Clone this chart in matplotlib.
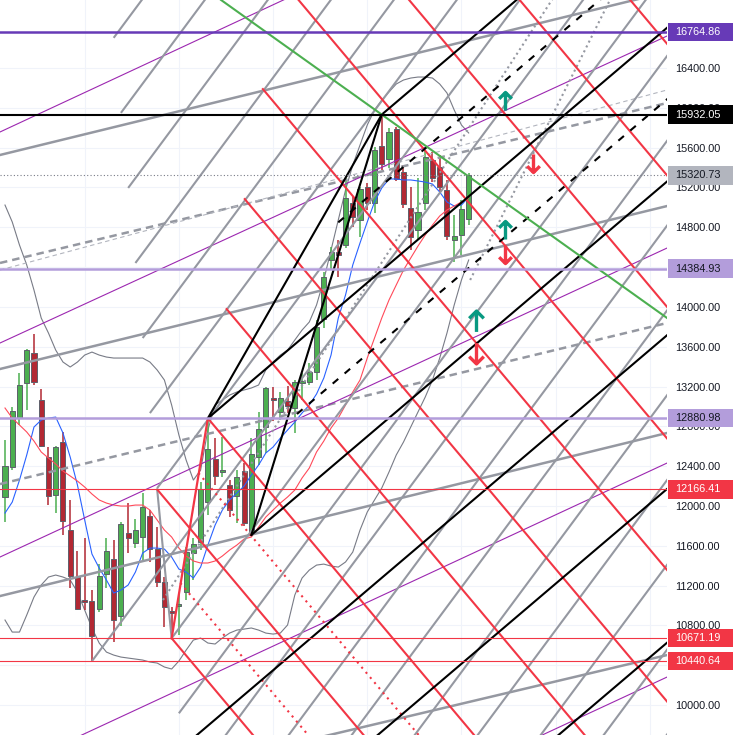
import numpy as np
import matplotlib
matplotlib.use("Agg")
import matplotlib.pyplot as plt
from matplotlib.path import Path
from matplotlib.patches import Rectangle
from matplotlib.transforms import blended_transform_factory

plt.rcParams['font.family'] = ['Liberation Sans', 'DejaVu Sans']

# ---- candles (bar index 0..64) ----
opens = [12090, 12391, 12883, 13235, 13536, 13064, 12491, 12110, 12642, 11758,
         11286, 11055, 11045, 10964, 11316, 11467, 10894, 11728, 11628, 11688,
         11899, 11567, 11236, 10944, 10995, 11135, 11527, 11637, 12039, 12471,
         12341, 12210, 12100, 12351, 11728, 12491, 12793, 13084, 12944, 13054,
         12984, 13235, 13245, 13346, 13878, 14471, 14551, 14621, 15043, 14873,
         15204, 15043, 15616, 15485, 15787, 15355, 14993, 14772, 15043, 15475,
         15405, 15174, 14672, 14722, 14883]
closes = [12401, 12954, 13215, 13566, 13245, 12602, 12100, 12592, 11849, 11296,
          10964, 11035, 10693, 11296, 11547, 10854, 11818, 11678, 11758, 11989,
          11567, 11236, 10984, 10924, 11015, 11537, 11617, 12170, 12572, 12301,
          12361, 11959, 12291, 11828, 12522, 12773, 13185, 13064, 13084, 13004,
          13245, 13255, 13346, 13798, 14300, 14551, 14521, 15094, 14903, 15184,
          15043, 15576, 15435, 15757, 15285, 15033, 14702, 14953, 15506, 15295,
          15204, 14712, 14712, 14983, 15320.73]
highs = [12662, 12994, 13336, 13580, 13727, 13175, 12592, 12602, 12743, 12060,
         11547, 11678, 11155, 11416, 11678, 11658, 11839, 12029, 11869, 12130,
         11959, 11788, 11286, 10984, 11125, 11587, 11678, 12240, 12880.98, 12682,
         12692, 12260, 12361, 12431, 12682, 12944, 13195, 13195, 13145, 13205,
         13265, 13336, 13436, 13868, 14350, 14601, 14672, 15295, 15104, 15204,
         15244, 15606, 15932.05, 15797, 15807, 15425, 15204, 15295, 15576, 15556,
         15526, 15274, 14923, 15074, 15345]
lows = [11839, 12361, 12813, 12964, 13215, 12595, 12009, 11929, 11708, 11175,
        10954, 10954, 10440.64, 10934, 11175, 10633, 10794, 11527, 11577, 11457,
        11437, 11185, 10783, 10671.19, 10703, 11055, 11256, 11557, 11909, 12210,
        12291, 11889, 11828, 11798, 11708, 12411, 12532, 12853, 12863, 12934,
        12733, 13064, 13215, 13265, 13788, 14370, 14300, 14591, 14802, 14702,
        14973, 14943, 15375, 15395, 15265, 14993, 14571, 14672, 14973, 15254,
        15144, 14672, 14451, 14521, 14822]

# ---- indicators ----
fast_ma = [11929, 12039, 12260, 12512, 12793, 12863, 12883, 12893, 12733, 12491,
           12210, 11859, 11517, 11376, 11256, 11125, 11155, 11206, 11336, 11527,
           11577, 11577, 11567, 11487, 11366, 11336, 11276, 11386, 11607, 11808,
           11959, 12060, 12130, 12200, 12311, 12411, 12532, 12592, 12682, 12763,
           12843, 12934, 13014, 13125, 13285, 13516, 13888, 14119, 14421, 14642,
           14853, 15054, 15194, 15285, 15285, 15275, 15275, 15265, 15254, 15234,
           15154, 15054, 15013, 15023, 15104]
slow_ma = [12984, 12883, 12813, 12743, 12652, 12542, 12481, 12421, 12351, 12301,
           12250, 12190, 12120, 12060, 12029, 12009, 11999, 11999, 12009, 12009,
           11959, 11859, 11758, 11688, 11577, 11497, 11447, 11427, 11427, 11447,
           11497, 11557, 11607, 11668, 11688, 11788, 11889, 11959, 12029, 12090,
           12160, 12281, 12381, 12542, 12652, 12783, 12883, 13014, 13145, 13265,
           13486, 13687, 13888, 14069, 14220, 14370, 14491, 14611, 14722, 14822,
           14913, 14973, 15013, 15054, 15094]
bb_upper = [15023, 14853, 14621, 14421, 14169, 13888, 13737, 13566, 13446, 13396,
            13446, 13516, 13546, 13516, 13496, 13486, 13486, 13486, 13486, 13486,
            13446, 13366, 13265, 13014, 12713, 12461, 12260, 12361, 12763, 13014,
            13064, 13114, 13145, 13165, 13185, 13215, 13366, 13446, 13516, 13566,
            13667, 13767, 13848, 14019, 14270, 14571, 14873, 15174, 15425, 15626,
            15827, 15978, 16078, 16159, 16239, 16279, 16299, 16309, 16309, 16299,
            16239, 16149, 15978, 15827, 15747]
bb_lower = [10854, 10733, 10733, 10904, 11085, 11206, 11286, 11306, 11286, 11256,
            11135, 10954, 10774, 10623, 10532, 10502, 10482, 10472, 10462, 10452,
            10432, 10422, 10382, 10362, 10442, 10552, 10653, 10673, 10623, 10613,
            10673, 10723, 10753, 10763, 10774, 10753, 10723, 10713, 10723, 10804,
            11105, 11276, 11356, 11406, 11416, 11396, 11386, 11437, 11537, 11758,
            11939, 12060, 12180, 12341, 12512, 12642, 12793, 12944, 13094, 13265,
            13486, 13737, 14019, 14270, 14471]

# ---- drawing anchors (bar, price) ----
pivot_b = (23, 10671.19)
pivot_c = (28, 12880.98)
pivot_d = (34, 11708)
pivot_e = (52, 15932.05)

red_slope = -86.6
red_start_bars = [23, 21, 28, 30.5, 33, 35.5, 38, 40.5, 43, 45.5]
red_start_prices = [10671.19, 12166.41, 12880.98, 13986, 15091, 16196, 17301, 18406, 19511, 20616]
red_dot_bars = [26.7, 24.2]
red_dot_prices = [12331, 11226]

gray_slope = 98.0
gray_start_bars = [15, 16, 17, 18, 19, 20, 21, 12, 23, 24, 25, 26, 27, 28, 29, 30, 31, 32]
gray_start_prices = [16703, 15949, 15195, 14441, 13687, 12933, 12179, 10440.64, 10671.19,
                     9917, 9163, 8409, 7655, 6901, 6147, 5393, 4639, 3885]

black_slope = 61.9
black_full_bars = [40, 46, 52]
black_full_prices = [10535, 9362, 8189]
black_dash_bars = [40.3, 46]
black_dash_prices = [12924, 14849]

green_slope = -51.9

# shallow lines: price at left edge / right edge
flat_left = [15526, 13376, 11095, 8915]
flat_right = [17163, 15013, 12733, 10502]
dash_left = [14441, 12220]
dash_right = [16048, 13838]
thin_dash_left, thin_dash_right = 14370, 16179
purple_left = [15757, 13637, 11487, 9317, 7169]
purple_right = [18878, 16721, 14591, 12431, 10281]

dot_bars = [21.8, 64.2]
dot_prices = [11055, 14270]
dot_slopes = [112.3, 145.8]

levels = [16764.86, 15932.05, 15320.73, 14384.93, 12880.98, 12166.41, 10671.19, 10440.64]
level_colors = ['#673ab7', '#000000', '#787b86', '#b39ddb', '#b39ddb', '#f23645', '#f23645', '#f23645']
level_widths = [1.8, 1.5, 0.8, 1.8, 1.8, 0.8, 0.8, 0.8]
label_bg = ['#673ab7', '#000000', '#b2b5be', '#b39ddb', '#b39ddb', '#f23645', '#f23645', '#f23645']
label_fg = ['white', 'white', '#131722', '#131722', '#131722', 'white', 'white', 'white']

up_bars = [69.0, 69.0, 65.0]
up_prices = [16068, 14772, 13858]
down_bars = [72.9, 69.0, 65.0]
down_prices = [15445, 14531, 13537]

XMIN, XMAX = -0.69, 91.37
YMIN, YMAX = 9699, 17083

RED = '#f23645'
GRAY = '#9598a1'
GREEN_C = '#4caf50'
RED_C = '#b22833'

fig = plt.figure(figsize=(7.33, 7.35), dpi=100)
ax = fig.add_axes([0, 0, 667 / 733, 1])
ax.set_xlim(XMIN, XMAX)
ax.set_ylim(YMIN, YMAX)


def ray(b0, p0, slope, **kw):
    b1 = XMAX + 5
    ax.plot([b0, b1], [p0, p0 + slope * (b1 - b0)], solid_capstyle='butt', **kw)


# indicators
x = np.arange(len(opens))
ax.plot(x, bb_upper, color='#787b86', lw=0.8, zorder=2)
ax.plot(x, bb_lower, color='#787b86', lw=0.8, zorder=2)

# candles
o = np.array(opens)
c = np.array(closes)
col = np.where(c >= o, GREEN_C, RED_C)
ax.vlines(x, lows, highs, colors=col, lw=1.1, zorder=3)
ax.bar(x, np.maximum(np.abs(c - o), 15), bottom=np.minimum(o, c), width=0.7,
       color=col, edgecolor='#5d606b', lw=0.7, zorder=3.1)

ax.plot(x, fast_ma, color='#2962ff', lw=0.8, zorder=3.5)
ax.plot(x, slow_ma, color='#ff4a5a', lw=0.8, zorder=3.5)

# shallow gray lines
for l, r in zip(flat_left, flat_right):
    ax.plot([XMIN, XMAX], [l, r], color=GRAY, lw=1.8, zorder=4)
for l, r in zip(dash_left, dash_right):
    ax.plot([XMIN, XMAX], [l, r], color=GRAY, lw=1.8, dashes=(3, 2), zorder=4)
ax.plot([XMIN, XMAX], [thin_dash_left, thin_dash_right], color='#b2b5be', lw=0.8,
        dashes=(4, 3), zorder=4)
for l, r in zip(purple_left, purple_right):
    ax.plot([XMIN, XMAX], [l, r], color='#9c27b0', lw=0.8, zorder=4)

# gray steep fan
for b0, p0 in zip(gray_start_bars, gray_start_prices):
    ray(b0, p0, gray_slope, color=GRAY, lw=1.5, zorder=4)
ax.plot([21, pivot_b[0]], [12166.41, pivot_b[1]], color=GRAY, lw=1.5, zorder=4)

# gray dotted
for b0, p0, s in zip(dot_bars, dot_prices, dot_slopes):
    ray(b0, p0, s, color=GRAY, lw=1.5, dashes=(1, 1.6), zorder=4)

# red fan
for b0, p0 in zip(red_start_bars, red_start_prices):
    ray(b0, p0, red_slope, color=RED, lw=1.5, zorder=4.2)
for b0, p0 in zip(red_dot_bars, red_dot_prices):
    ray(b0, p0, red_slope, color=RED, lw=1.5, dashes=(1, 2.2), zorder=4.2)
ax.plot([pivot_b[0], pivot_c[0]], [pivot_b[1], pivot_c[1]], color=RED, lw=1.6, zorder=4.2)

# black pitchfork
for p in (pivot_c, pivot_d):
    ax.plot([p[0], pivot_e[0]], [p[1], pivot_e[1]], color='black', lw=1.5, zorder=4.4)
for p in (pivot_c, pivot_d, pivot_e):
    ray(p[0], p[1], black_slope, color='black', lw=1.5, zorder=4.4)
for b0, p0 in zip(black_full_bars, black_full_prices):
    ax.axline((b0, p0), slope=black_slope, color='black', lw=1.5, zorder=4.4)
for b0, p0 in zip(black_dash_bars, black_dash_prices):
    ray(b0, p0, black_slope, color='black', lw=1.5, dashes=(3.5, 4), zorder=4.4)

# green trend line
ax.axline(pivot_e, slope=green_slope, color=GREEN_C, lw=1.5, zorder=4.4)

# horizontal levels
for lv, lc, lw in zip(levels, level_colors, level_widths):
    if lv == 15320.73:
        ax.axhline(lv, color=lc, lw=lw, dashes=(1, 2), zorder=4.5)
    else:
        ax.axhline(lv, color=lc, lw=lw, zorder=4.5)

# arrows
up_path = Path([(0, -1), (0, 1), (-0.7, 0.3), (0, 1), (0.7, 0.3)],
               [Path.MOVETO, Path.LINETO, Path.MOVETO, Path.LINETO, Path.LINETO])
down_path = Path([(0, 1), (0, -1), (-0.7, -0.3), (0, -1), (0.7, -0.3)],
                 [Path.MOVETO, Path.LINETO, Path.MOVETO, Path.LINETO, Path.LINETO])
sizes = [13, 13, 15]
for i in range(3):
    ax.plot(up_bars[i], up_prices[i], ls='none', marker=up_path, ms=sizes[i],
            mec='#089981', mfc='none', mew=2.4, zorder=6)
    ax.plot(down_bars[i], down_prices[i], ls='none', marker=down_path, ms=sizes[i],
            mec=RED, mfc='none', mew=2.4, zorder=6)

# axes styling; ticks fully hidden behind a level label are left blank
ax.yaxis.tick_right()
ticks = np.arange(10000, 16401, 400)
hidden = [14400, 10400]
ax.set_yticks(ticks)
ax.set_yticklabels(["" if t in hidden else f"{t:.2f}" for t in ticks])
ax.tick_params(axis='y', length=0, pad=6, labelsize=7.8, labelcolor='#131722')
ax.set_xticks([11, 24, 37, 50, 63, 76, 89])
ax.tick_params(axis='x', length=0, labelbottom=False)
ax.grid(True, color='#f0f3fa', lw=0.8)
ax.set_axisbelow(True)
for s in ax.spines.values():
    s.set_visible(False)

# price labels
bt = blended_transform_factory(fig.transFigure, ax.transData)
for lv, bg, fg in zip(levels, label_bg, label_fg):
    ax.add_patch(Rectangle((668 / 733, lv - 92), 65 / 733, 184, transform=bt,
                           facecolor=bg, edgecolor='none', clip_on=False, zorder=10))
    ax.text(675 / 733, lv, f"{lv:.2f}", transform=bt, color=fg, fontsize=7.8,
            va='center', ha='left', zorder=11, clip_on=False)

ax.set_xlim(XMIN, XMAX)
ax.set_ylim(YMIN, YMAX)
fig.savefig("out.png", dpi=100)
